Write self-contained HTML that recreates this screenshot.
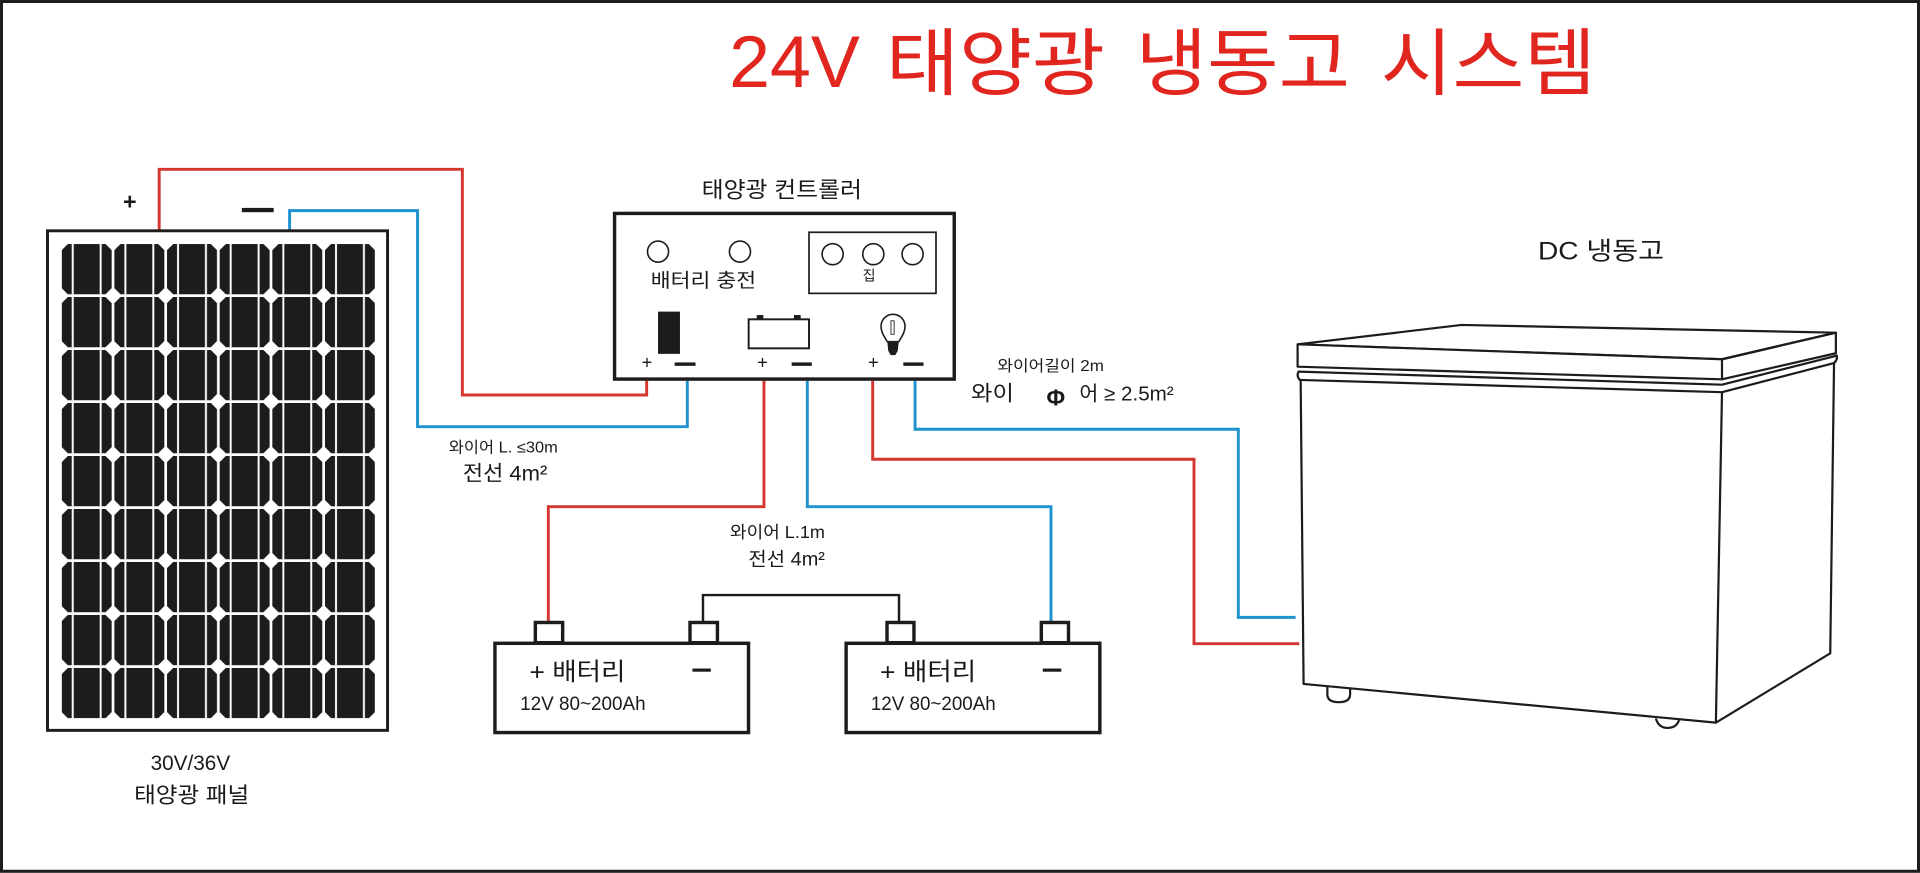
<!DOCTYPE html>
<html>
<head>
<meta charset="utf-8">
<style>
  html,body{margin:0;padding:0;background:#fff;}
  body{width:1920px;height:873px;overflow:hidden;}
  svg{display:block;}
  text{font-family:"Liberation Sans","Noto Sans CJK KR",sans-serif;fill:#1a1a1a;}
</style>
</head>
<body>
<svg width="1920" height="873" viewBox="0 0 1568 713" preserveAspectRatio="none" xmlns="http://www.w3.org/2000/svg">
  <defs>
    <pattern id="cell" x="50.4" y="199.3" width="43" height="43.28" patternUnits="userSpaceOnUse">
      <polygon points="5,0 35.8,0 40.8,5 40.8,36.08 35.8,41.08 5,41.08 0,36.08 0,5" fill="#1e1b1c"/>
      <rect x="8.2" y="0" width="1.6" height="41.08" fill="#fff"/>
      <rect x="31.0" y="0" width="1.6" height="41.08" fill="#fff"/>
    </pattern>
  </defs>

  <!-- background + outer border -->
  <rect x="0" y="0" width="1568" height="713" fill="#fff"/>
  <rect x="1.2" y="1.2" width="1565.6" height="710.4" fill="none" stroke="#1e1e1e" stroke-width="2.5"/>

  <!-- Title -->
  <text x="595.5" y="71" font-size="60" style="fill:#e0261f">24V</text>
  <text x="723.5" y="72.5" font-size="60" textLength="179" lengthAdjust="spacingAndGlyphs" style="fill:#e0261f">태양광</text>
  <text x="927.5" y="72.5" font-size="60" textLength="175" lengthAdjust="spacingAndGlyphs" style="fill:#e0261f">냉동고</text>
  <text x="1127.5" y="72.5" font-size="60" textLength="176" lengthAdjust="spacingAndGlyphs" style="fill:#e0261f">시스템</text>

  <!-- Wires -->
  <g fill="none" stroke-width="2.4" stroke-linejoin="miter">
    <path d="M130 188 V138.3 H377.6 V322.6 H528.1 V311" stroke="#d4372f"/>
    <path d="M236.5 188 V172 H341 V348.5 H561.3 V311" stroke="#1f93cf"/>
    <path d="M623.9 311 V413.8 H447.8 V508" stroke="#d4372f"/>
    <path d="M659.3 311 V413.8 H858.3 V508" stroke="#1f93cf"/>
    <path d="M712.7 311 V375.1 H975.1 V525.7 H1061.1" stroke="#d4372f"/>
    <path d="M747.3 311 V350.6 H1011.3 V504.2 H1058.1" stroke="#1f93cf"/>
  </g>

  <!-- Solar panel -->
  <rect x="38.8" y="188.5" width="277.7" height="408" fill="#fff" stroke="#1e1b1c" stroke-width="2.4"/>
  <rect x="50.4" y="199.3" width="255.8" height="387.3" fill="url(#cell)"/>
  <text x="100.5" y="171.2" font-size="19" font-weight="bold">+</text>
  <rect x="197.5" y="169.8" width="26" height="3.5" fill="#1e1b1c"/>
  <text x="123" y="628.8" font-size="17" textLength="65" lengthAdjust="spacingAndGlyphs">30V/36V</text>
  <text x="109.5" y="655.3" font-size="17.8" textLength="94" lengthAdjust="spacingAndGlyphs">태양광 패널</text>

  <!-- Controller -->
  <text x="573" y="161.5" font-size="18.2" textLength="131" lengthAdjust="spacingAndGlyphs">태양광 컨트롤러</text>
  <rect x="501.9" y="174.3" width="277.4" height="135.3" fill="#fff" stroke="#1e1b1c" stroke-width="2.8"/>
  <circle cx="537.4" cy="205.5" r="8.6" fill="none" stroke="#1e1b1c" stroke-width="1.3"/>
  <circle cx="604.3" cy="205.5" r="8.6" fill="none" stroke="#1e1b1c" stroke-width="1.3"/>
  <text x="531.5" y="234.4" font-size="15.6" textLength="86" lengthAdjust="spacingAndGlyphs">배터리 충전</text>
  <rect x="660.7" y="189.7" width="103.7" height="49.9" fill="none" stroke="#1e1b1c" stroke-width="1.4"/>
  <circle cx="680" cy="207.6" r="8.6" fill="none" stroke="#1e1b1c" stroke-width="1.3"/>
  <circle cx="713.2" cy="207.6" r="8.6" fill="none" stroke="#1e1b1c" stroke-width="1.3"/>
  <circle cx="745.3" cy="207.6" r="8.6" fill="none" stroke="#1e1b1c" stroke-width="1.3"/>
  <text x="704.5" y="229.2" font-size="11.5">집</text>

  <!-- solar icon -->
  <rect x="537.4" y="254.5" width="17.9" height="34.5" fill="#1e1b1c"/>
  <!-- battery icon -->
  <rect x="618" y="257.3" width="5.4" height="3" fill="#1e1b1c"/>
  <rect x="648.4" y="257.3" width="5.5" height="3" fill="#1e1b1c"/>
  <rect x="611.4" y="260.8" width="49.3" height="23.7" fill="#fff" stroke="#1e1b1c" stroke-width="1.6"/>
  <!-- bulb -->
  <path d="M724.6 279 C722.2 275, 719.5 271.5, 719.5 266.5 A 9.8 9.8 0 1 1 739.1 266.5 C739.1 271.5, 736.4 275, 734 279 Z" fill="#fff" stroke="#1e1b1c" stroke-width="1.3"/>
  <rect x="727.6" y="262" width="2.6" height="11" fill="none" stroke="#1e1b1c" stroke-width="0.7"/>
  <path d="M724.6 279 L734 279 L733.2 286.5 L731.2 290 L727.4 290 L725.4 286.5 Z" fill="#1e1b1c"/>

  <!-- controller terminals labels -->
  <text x="524" y="300.9" font-size="15">+</text>
  <rect x="551" y="296" width="17" height="2.8" fill="#1e1b1c"/>
  <text x="618.3" y="300.9" font-size="15">+</text>
  <rect x="646.5" y="296" width="16.5" height="2.8" fill="#1e1b1c"/>
  <text x="708.9" y="300.9" font-size="15">+</text>
  <rect x="737.7" y="296" width="16.5" height="2.8" fill="#1e1b1c"/>

  <!-- Wire labels -->
  <text x="366.5" y="369.5" font-size="12.5" textLength="89" lengthAdjust="spacingAndGlyphs">와이어 L. ≤30m</text>
  <text x="378" y="392.5" font-size="17" textLength="69" lengthAdjust="spacingAndGlyphs">전선 4m²</text>
  <text x="596.2" y="439.3" font-size="14" textLength="77.5" lengthAdjust="spacingAndGlyphs">와이어 L.1m</text>
  <text x="611.2" y="462" font-size="15.5" textLength="62.5" lengthAdjust="spacingAndGlyphs">전선 4m²</text>
  <text x="814.5" y="303" font-size="12.6" textLength="87" lengthAdjust="spacingAndGlyphs">와이어길이 2m</text>
  <text x="793" y="327" font-size="17" textLength="35" lengthAdjust="spacingAndGlyphs">와이</text>
  <text x="854.6" y="331" font-size="19" font-weight="bold" textLength="15.2" lengthAdjust="spacingAndGlyphs">Φ</text>
  <text x="881.5" y="327" font-size="16.5" textLength="77" lengthAdjust="spacingAndGlyphs">어 ≥ 2.5m²</text>

  <!-- Batteries -->
  <path d="M574.1 508 V486 H734.2 V508" fill="none" stroke="#1e1b1c" stroke-width="2"/>
  <g fill="#fff" stroke="#1e1b1c" stroke-width="2.8">
    <rect x="437.2" y="508.4" width="22.3" height="16.5"/>
    <rect x="563.5" y="508.4" width="22.4" height="16.5"/>
    <rect x="724.4" y="508.4" width="22" height="16.5"/>
    <rect x="850.4" y="508.4" width="22.2" height="16.5"/>
    <rect x="404.2" y="525.4" width="207.1" height="72.9"/>
    <rect x="691" y="525.4" width="207.2" height="72.9"/>
  </g>
  <text x="432.3" y="555.3" font-size="20" textLength="78.5" lengthAdjust="spacingAndGlyphs">+ 배터리</text>
  <rect x="565.5" y="546" width="15" height="2.6" fill="#1e1b1c"/>
  <text x="424.8" y="580" font-size="15.5" textLength="102.5" lengthAdjust="spacingAndGlyphs">12V 80~200Ah</text>
  <text x="718.7" y="555.3" font-size="20" textLength="78.5" lengthAdjust="spacingAndGlyphs">+ 배터리</text>
  <rect x="851.6" y="546" width="15.1" height="2.6" fill="#1e1b1c"/>
  <text x="711.2" y="580" font-size="15.5" textLength="102" lengthAdjust="spacingAndGlyphs">12V 80~200Ah</text>

  <!-- Freezer -->
  <text x="1256" y="212" font-size="20.5" textLength="103" lengthAdjust="spacingAndGlyphs">DC 냉동고</text>
  <g fill="none" stroke="#1e1b1c" stroke-width="1.8" stroke-linejoin="round" stroke-linecap="round">
    <path d="M1059.7 281.2 L1193.6 265.4 L1499.3 271.7 L1406.3 293.4 Z" fill="#fff"/>
    <path d="M1059.7 281.2 L1406.3 293.4 L1406.3 309.8 L1059.7 299.5 Z" fill="#fff"/>
    <path d="M1406.3 293.4 L1499.3 271.7 L1499.3 288.5 L1406.3 309.8"/>
    <path d="M1060.5 303.5 L1406.3 314.2 L1500 290.5"/>
    <path d="M1060.5 303.5 Q1058.5 307 1061.5 310.3"/>
    <path d="M1061.5 310.3 L1406.3 320.3 L1497.8 296.5"/>
    <path d="M1500 290.5 Q1501 293.5 1497.8 296.5"/>
    <path d="M1062.2 310.6 L1064.6 558.6 L1401.3 590.2 L1494.7 533.6 L1497.8 296.5"/>
    <path d="M1406.3 320.3 L1401.3 590.2"/>
    <path d="M1084 561 V567 Q1084 573.5 1093.3 573.5 Q1102.6 573.5 1102.6 567 V563"/>
    <path d="M1352.5 587.5 Q1355 594.5 1361.8 594.5 Q1368.6 594.5 1371 588.8"/>
  </g>
</svg>
</body>
</html>
